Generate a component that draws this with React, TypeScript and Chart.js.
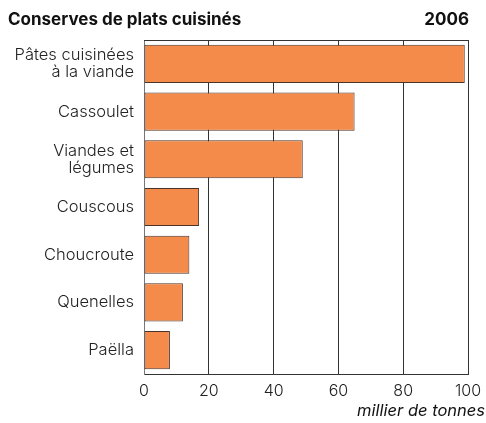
import React, { useEffect, useRef } from "react";
import { Chart, registerables } from "chart.js";

Chart.register(...registerables);

const categories: (string | string[])[] = [
  ["Pâtes cuisinées", "à la viande"],
  "Cassoulet",
  ["Viandes et", "légumes"],
  "Couscous",
  "Choucroute",
  "Quenelles",
  "Paëlla",
];
const values = [99, 65, 49, 17, 14, 12, 8];
const chartTitle = "Conserves de plats cuisinés";
const chartYear = "2006";
const axisTitle = "millier de tonnes";

const FONT = "Inter, 'Liberation Sans', sans-serif";

export default function App() {
  const ref = useRef<HTMLCanvasElement | null>(null);
  useEffect(() => {
    if (!ref.current) return;
    const titlePlugin = {
      id: "titles",
      afterDraw(chart: any) {
        const ctx = chart.ctx;
        const a = chart.chartArea;
        ctx.save();
        ctx.strokeStyle = "#333";
        ctx.lineWidth = 1;
        ctx.beginPath();
        ctx.moveTo(a.left, a.top + 0.5);
        ctx.lineTo(a.right, a.top + 0.5);
        ctx.stroke();
        ctx.font = `bold 17px ${FONT}`;
        ctx.fillStyle = "#111";
        ctx.textBaseline = "middle";
        ctx.textAlign = "left";
        ctx.fillText(chartTitle, 8, 20);
        ctx.textAlign = "right";
        ctx.fillText(chartYear, 469, 20);
        ctx.font = `italic 16.5px ${FONT}`;
        ctx.fillText(axisTitle, 485, 411);
        ctx.restore();
      },
    };
    const chart = new Chart(ref.current, {
      type: "bar",
      data: {
        labels: categories,
        datasets: [
          {
            data: values,
            backgroundColor: "#F58B4A",
            borderColor: "#4a3328",
            borderWidth: 1,
            borderSkipped: false,
            barPercentage: 0.8,
            categoryPercentage: 1,
          },
        ],
      },
      options: {
        indexAxis: "y",
        animation: false,
        responsive: false,
        maintainAspectRatio: false,
        layout: { padding: { left: 0, right: 18, top: 40, bottom: 0 } },
        plugins: { legend: { display: false }, tooltip: { enabled: false } },
        scales: {
          x: {
            min: 0,
            max: 100,
            ticks: {
              stepSize: 20,
              color: "#222",
              font: { family: FONT, size: 16, weight: "300" },
              padding: 8,
            },
            grid: { color: "#333", lineWidth: 1, drawTicks: false },
            border: { color: "#333" },
            title: { display: false },
            afterFit(scale: any) {
              scale.height = 49;
              scale.paddingRight = 0;
              scale.paddingLeft = 0;
            },
          },
          y: {
            ticks: {
              color: "#222",
              font: { family: FONT, size: 16.5, weight: "300", lineHeight: 1.05 },
              padding: 10,
            },
            grid: { display: false, drawTicks: false },
            border: { color: "#777" },
            afterFit(scale: any) {
              scale.width = 144;
            },
          },
        },
      },
      plugins: [titlePlugin],
    });
    return () => chart.destroy();
  }, []);
  return (
    <div style={{ position: "absolute", left: 0, top: 0, width: 486, height: 423, background: "#fff" }}>
      <canvas ref={ref} width={486} height={423} />
    </div>
  );
}
